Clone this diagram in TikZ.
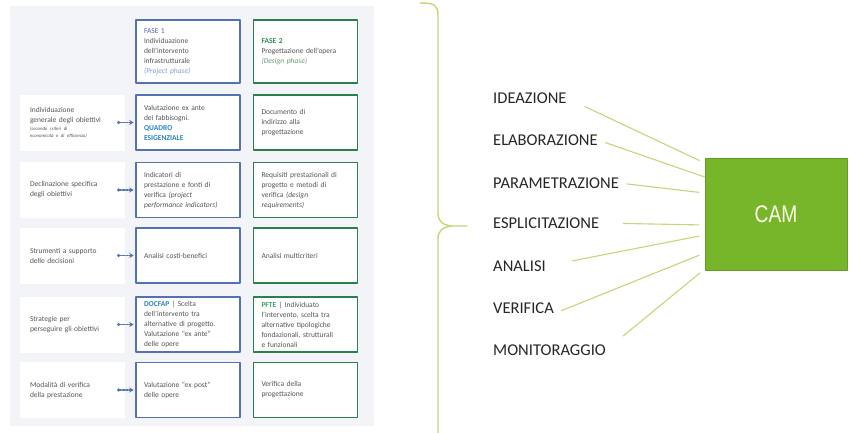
\documentclass[tikz,border=0pt]{standalone}
\usepackage{fontspec}
\setmainfont{Carlito}
\newfontfamily\camfont[FakeStretch=0.8]{Liberation Sans}
\newfontfamily\stagefont{Carlito}
\usetikzlibrary{arrows.meta}
\usetikzlibrary{positioning}

\definecolor{panelgray}{HTML}{F3F4F7}
\definecolor{boxblue}{HTML}{5572B0}
\definecolor{boxgreen}{HTML}{2E7D4E}
\definecolor{bodygray}{HTML}{555555}
\definecolor{faseblue}{HTML}{5060C0}
\definecolor{phaseblue}{HTML}{7FA0D8}
\definecolor{fasegreen}{HTML}{2E8B57}
\definecolor{phasegreen}{HTML}{6A9A7A}
\definecolor{keyblue}{HTML}{2585C7}
\definecolor{keygreen}{HTML}{3AA060}
\definecolor{labelgray}{HTML}{262626}
\definecolor{linegreen}{HTML}{C2D67A}
\definecolor{camgreen}{HTML}{77B52A}

\newcommand{\noteline}[1]{{\fontsize{4.8}{6}\selectfont\itshape #1}}

\tikzset{
  bluebox/.style={draw=boxblue, line width=1.6pt, fill=white, minimum width=104pt,
    minimum height=55pt, text width=88pt, align=left, inner sep=0pt,
    font=\fontsize{7.5}{10}\selectfont, text=bodygray},
  greenbox/.style={bluebox, draw=boxgreen},
  goalbox/.style={fill=white, minimum width=105pt, minimum height=56pt, text width=85pt,
    inner xsep=10pt, inner ysep=0pt, align=left, font=\fontsize{7.5}{10}\selectfont, text=bodygray},
  linkarrow/.style={draw=boxblue, line width=1.4pt, dash pattern=on 2pt off 1.3pt,
    {Circle[length=2.8pt]}-{Stealth[length=4.5pt,width=5pt]}, shorten >=1.5pt},
  stagelabel/.style={anchor=west, inner sep=0pt, font=\stagefont\fontsize{16.5}{18}\selectfont, text=labelgray},
  camline/.style={draw=linegreen, line width=1.1pt, shorten <=8pt, shorten >=6pt}
}

\begin{document}
\begin{tikzpicture}[x=1pt, y=-1pt, line cap=round, line join=round]

\useasboundingbox (0,0) rectangle (850,432);

% Left panel
\fill[panelgray] (10,6) rectangle (374,426);

\node[bluebox, minimum height=63pt] (fase1) at (188,51.5) {{\color{faseblue}FASE 1}\\
  Individuazione\\ dell'intervento\\ infrastrutturale\\ {\color{phaseblue}\itshape (Project phase)}};
\node[greenbox, minimum height=63pt] (fase2) at (305.5,51.5) {{\color{fasegreen}\bfseries FASE 2}\\
  Progettazione dell'opera\\ {\color{phasegreen}\itshape (Design phase)}};

% Rows
\node[goalbox] (goal1) at (72.5,122.5) {Individuazione\\ generale degli obiettivi\\[-1.5pt]
  \noteline{(secondo criteri di}\\[-3.5pt] \noteline{economicità e di efficienza)}};
\node[bluebox] (fab1) at (188,122.5) {Valutazione ex ante\\ dei fabbisogni.\\
  {\color{keyblue}\bfseries QUADRO\\ ESIGENZIALE}};
\node[greenbox] (doc1) at (305.5,122.5) {Documento di\\ indirizzo alla\\ progettazione};

\node[goalbox] (goal2) at (72.5,190) {Declinazione specifica\\ degli obiettivi};
\node[bluebox] (fab2) at (188,190) {Indicatori di\\ prestazione e fonti di\\
  verifica {\itshape (project\\ performance indicators)}};
\node[greenbox] (doc2) at (305.5,190) {Requisiti prestazionali di\\ progetto e metodi di\\
  verifica {\itshape (design\\ requirements)}};

\node[goalbox] (goal3) at (72.5,255.5) {Strumenti a supporto\\ delle decisioni};
\node[bluebox] (fab3) at (188,255.5) {Analisi costi-benefici};
\node[greenbox] (doc3) at (305.5,255.5) {Analisi multicriteri};

\node[goalbox] (goal4) at (72.5,324.5) {Strategie per\\ perseguire gli obiettivi};
\node[bluebox] (fab4) at (188,324.5) {{\color{keyblue}\bfseries DOCFAP} | Scelta\\
  dell'intervento tra\\ alternative di progetto.\\ Valutazione ``ex ante''\\ delle opere};
\node[greenbox] (doc4) at (305.5,324.5) {{\color{keygreen}\bfseries PFTE} | Individuato\\
  l'intervento, scelta tra\\ alternative tipologiche\\ fondazionali, strutturali\\ e funzionali};

\node[goalbox] (goal5) at (72.5,390) {Modalità di verifica\\ della prestazione};
\node[bluebox] (fab5) at (188,390) {Valutazione ``ex post''\\ delle opere};
\node[greenbox] (doc5) at (305.5,390) {Verifica della\\ progettazione};

\foreach \i in {1,...,5}
  \draw[linkarrow] ([xshift=-8pt]goal\i.east) -- (fab\i.west);

% Brace
\draw[draw=linegreen, line width=1.4pt]
  (420,3) .. controls (434,3) and (438,5) .. (438,15) -- (438,213)
  .. controls (438,221) and (442,225) .. (452,226) -- (467,226);
\draw[draw=linegreen, line width=1.4pt]
  (452,226) .. controls (442,227) and (438,231) .. (438,239) -- (438,440);

% Right part
\node[fill=camgreen, draw=camgreen!85!black, line width=0.6pt, minimum width=142pt,
  minimum height=112pt, text=white!92!yellow, font=\camfont\fontsize{24}{28}\selectfont]
  (cam) at (776,214) {CAM};

\node[stagelabel] (ideaz) at (493,98)  {IDEAZIONE};
\node[stagelabel] (elab)  at (493,140) {ELABORAZIONE};
\node[stagelabel] (param) at (493,183) {PARAMETRAZIONE};
\node[stagelabel] (espl)  at (493,223) {ESPLICITAZIONE};
\node[stagelabel] (anal)  at (493,266) {ANALISI};
\node[stagelabel] (verif) at (493,308) {VERIFICA};
\node[stagelabel] (monit) at (493,350) {MONITORAGGIO};

\draw[camline, shorten <=20pt] (ideaz.east) -- ([yshift=51pt]cam.west);
\draw[camline, shorten >=0pt] (elab.east) -- ([yshift=37pt]cam.west);
\draw[camline] (param.east) -- ([yshift=21pt]cam.west);
\draw[camline, shorten <=24pt] (espl.east) -- ([yshift=-11pt]cam.west);
\draw[camline, shorten <=27pt] (anal.east) -- ([yshift=-21pt]cam.west);
\draw[camline] (verif.south east) -- ([yshift=-39pt]cam.west);
\draw[camline, shorten <=22pt] (monit.east) -- ([yshift=-55pt]cam.west);

\end{tikzpicture}
\end{document}
